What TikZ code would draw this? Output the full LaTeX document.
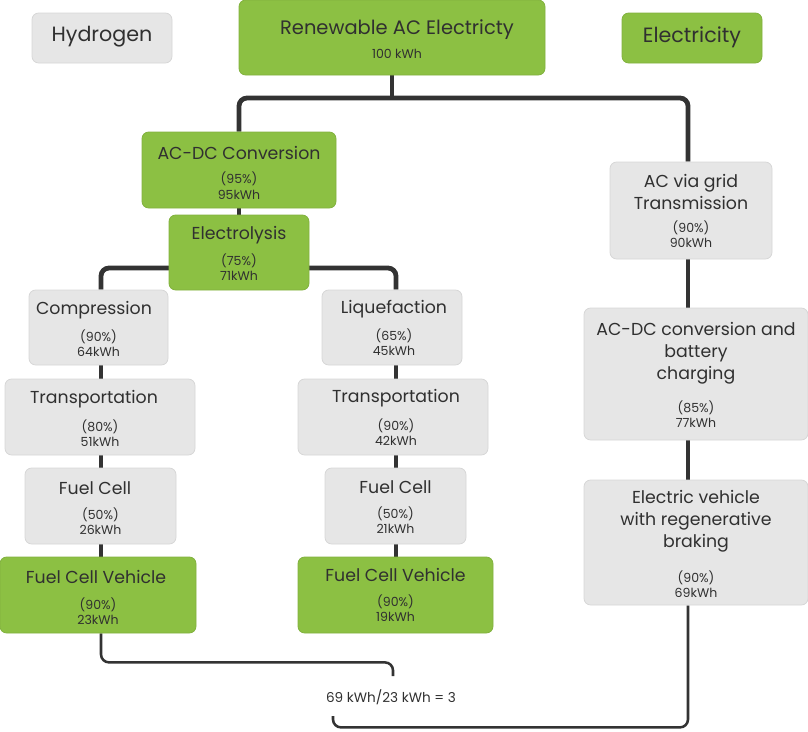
\documentclass[tikz,border=0pt]{standalone}
\usepackage{fontspec}
\setmainfont{Poppins}
\usetikzlibrary{fit,backgrounds}
\definecolor{grn}{HTML}{8CC043}
\definecolor{gry}{HTML}{E6E6E6}
\definecolor{gryb}{HTML}{D6D6D6}
\definecolor{txt}{HTML}{303030}
\definecolor{ln}{HTML}{333333}
\tikzset{
 box/.style={rounded corners=5pt, inner sep=0pt, line width=0.6pt},
 gbox/.style={box, fill=grn, draw=grn!92!black},
 hbox/.style={box, fill=gry, draw=gryb},
 ttl/.style={text=txt, font=\fontsize{13}{16.5}\selectfont, align=center, inner sep=0pt},
 big/.style={ttl, font=\fontsize{15.5}{18}\selectfont},
 sml/.style={text=txt, font=\fontsize{9.4}{11.7}\selectfont, align=center, inner sep=0pt},
 conn/.style={draw=ln, line width=3.6pt, rounded corners=6pt},
 chain/.style={draw=ln, line width=3pt},
 thinconn/.style={draw=ln, line width=1.9pt, rounded corners=6pt},
}
\begin{document}
\begin{tikzpicture}[x=0.75pt,y=-0.75pt]
\useasboundingbox (0,0) rectangle (808,732);
% boxes
\node[hbox, fit={(32,13)(172,63)}] (hyd) {};
\node[big] (hydT) at (102,37) {Hydrogen};
\node[gbox, fit={(239,0)(545,75)}] (ren) {};
\node[ttl, font=\fontsize{14.6}{16}\selectfont] (renT) at (397,30) {Renewable AC Electricty};
\node[sml] (renV) at (397,54) {100 kWh};
\node[gbox, fit={(622,13)(762,63)}] (ele) {};
\node[big] (eleT) at (692,37) {Electricity};

\node[gbox, fit={(142,132)(336,208)}] (acdc) {};
\node[ttl] (acdcT) at (239,153) {AC-DC Conversion};
\node[sml] (acdcV) at (239,185.5) {(95\%)\\95kWh};
\node[gbox, fit={(169,215)(309,290)}] (elec) {};
\node[ttl] (elecT) at (239,235) {Electrolysis};
\node[sml] (elecV) at (239,267) {(75\%)\\71kWh};

\node[hbox, fit={(29,290)(168,365)}] (comp) {};
\node[ttl] (compT) at (94,310) {Compression};
\node[sml] (compV) at (98.5,343) {(90\%)\\64kWh};
\node[hbox, fit={(322,290)(462,365)}] (liq) {};
\node[ttl] (liqT) at (394,309) {Liquefaction};
\node[sml] (liqV) at (394,342) {(65\%)\\45kWh};

\node[hbox, fit={(5,379)(195,455)}] (trL) {};
\node[ttl] (trLT) at (94,399) {Transportation};
\node[sml] (trLV) at (100,433) {(80\%)\\51kWh};
\node[hbox, fit={(298,379)(488,455)}] (trR) {};
\node[ttl] (trRT) at (396,398) {Transportation};
\node[sml] (trRV) at (396,432) {(90\%)\\42kWh};

\node[hbox, fit={(25,468)(176,544)}] (fcL) {};
\node[ttl] (fcLT) at (95,488) {Fuel Cell};
\node[sml] (fcLV) at (100.5,521) {(50\%)\\26kWh};
\node[hbox, fit={(325,468)(466,544)}] (fcR) {};
\node[ttl] (fcRT) at (395.5,487) {Fuel Cell};
\node[sml] (fcRV) at (395.5,520) {(50\%)\\21kWh};

\node[gbox, fit={(0,557)(196,633)}] (fcvL) {};
\node[ttl] (fcvLT) at (96,577) {Fuel Cell Vehicle};
\node[sml] (fcvLV) at (98,611) {(90\%)\\23kWh};
\node[gbox, fit={(298,557)(493,633)}] (fcvR) {};
\node[ttl] (fcvRT) at (395.5,575) {Fuel Cell Vehicle};
\node[sml] (fcvRV) at (395.5,608) {(90\%)\\19kWh};

\node[hbox, fit={(610,162)(772,259)}] (grid) {};
\node[ttl] (gridT) at (691,192) {AC via grid\\Transmission};
\node[sml] (gridV) at (691,234) {(90\%)\\90kWh};
\node[hbox, fit={(584,308)(808,440)}] (conv) {};
\node[ttl] (convT) at (696,353) {AC-DC conversion and\\battery\\charging};
\node[sml] (convV) at (696,414) {(85\%)\\77kWh};
\node[hbox, fit={(584,480)(808,605)}] (ev) {};
\node[ttl] (evT) at (696,521) {Electric vehicle\\with regenerative\\braking};
\node[sml] (evV) at (696,584) {(90\%)\\69kWh};

\node[sml, font=\fontsize{10.2}{12}\selectfont] (ratio) at (391,697) {69 kWh/23 kWh = 3};

% connectors
\coordinate (j1) at (392,98);
\coordinate (j2) at (250,268);
\coordinate (rx) at (688,0);
\coordinate (lxL) at (101,0);
\coordinate (lxR) at (396,0);
\coordinate (e1) at (393,676);
\coordinate (e2) at (333,716);
\begin{pgfonlayer}{background}
\draw[conn] (ren.south) -- (j1);
\draw[conn] (acdc.north) |- (j1) -| (rx |- grid.north);
\draw[conn] (acdc.south) -- (elec.north);
\draw[conn] (lxL |- comp.north) |- (j2) -| (lxR |- liq.north);
\draw[chain] (lxL |- comp.south) -- (lxL |- fcvL.north);
\draw[chain] (lxR |- liq.south) -- (lxR |- fcvR.north);
\draw[conn] (rx |- grid.south) -- (rx |- ev.north);
\draw[thinconn] (lxL |- fcvL.south) -- ++(0,29) -| (e1);
\draw[thinconn] (rx |- ev.south) -- ++(0,122) -| (e2);
\end{pgfonlayer}
\end{tikzpicture}
\end{document}
